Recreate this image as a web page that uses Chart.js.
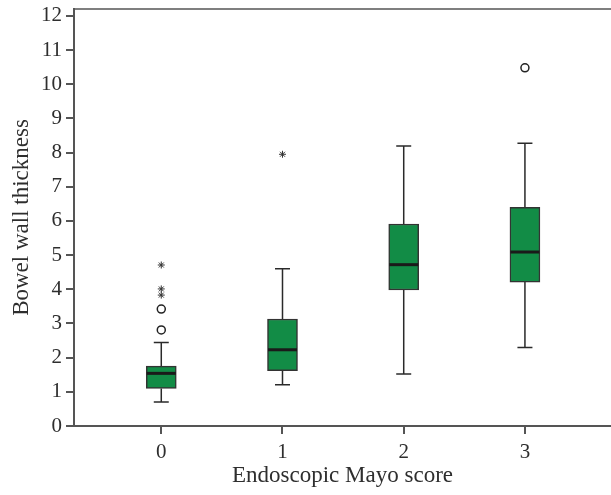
<!DOCTYPE html>
<html>
<head>
<meta charset="utf-8">
<script src="https://cdn.jsdelivr.net/npm/chart.js@4"></script>
<style>
  html, body { margin: 0; padding: 0; background: #fff; }
  #wrap { width: 611px; height: 495px; }
</style>
</head>
<body>
<div id="wrap"><canvas id="chart"></canvas></div>
<script>
// Endoscopic Mayo score groups
const scores = [0, 1, 2, 3];
// box plot summary per group
const whiskerLow = [0.70, 1.21, 1.52, 2.30];
const q1 = [1.10, 1.62, 3.98, 4.21];
const median = [1.54, 2.23, 4.72, 5.09];
const q3 = [1.75, 3.13, 5.91, 6.40];
const whiskerHigh = [2.44, 4.60, 8.19, 8.27];
// outliers (circles) and extreme values (asterisks)
const outlierX = [0, 0, 3];
const outlierY = [2.81, 3.42, 10.48];
const extremeX = [0, 0, 0, 1];
const extremeY = [3.83, 4.01, 4.71, 7.95];
const yTicks = [0, 1, 2, 3, 4, 5, 6, 7, 8, 9, 10, 11, 12];

const axisColor = '#555';
const textColor = '#2e2e2e';
const serif = 'Liberation Serif';

const boxLines = {
    id: 'boxLines',
    beforeDatasetsDraw(chart) {
        // whiskers and caps
        const {ctx, scales: {x, y}} = chart;
        ctx.save();
        ctx.strokeStyle = '#2a2a2a';
        ctx.lineWidth = 1.5;
        scores.forEach((s, i) => {
            const cx = x.getPixelForValue(s);
            const ends = [[q3[i], whiskerHigh[i]], [q1[i], whiskerLow[i]]];
            ends.forEach(([from, to]) => {
                const yTo = y.getPixelForValue(to);
                ctx.beginPath();
                ctx.moveTo(cx, y.getPixelForValue(from));
                ctx.lineTo(cx, yTo);
                ctx.moveTo(cx - 7.5, yTo);
                ctx.lineTo(cx + 7.5, yTo);
                ctx.stroke();
            });
        });
        ctx.restore();
    },
    afterDatasetsDraw(chart) {
        // medians
        const {ctx, scales: {x, y}} = chart;
        ctx.save();
        ctx.strokeStyle = '#1a1a1a';
        ctx.lineWidth = 3;
        scores.forEach((s, i) => {
            const cx = x.getPixelForValue(s);
            const my = y.getPixelForValue(median[i]);
            ctx.beginPath();
            ctx.moveTo(cx - 14.5, my);
            ctx.lineTo(cx + 14.5, my);
            ctx.stroke();
        });
        ctx.restore();
    },
    afterDraw(chart) {
        // top frame line
        const {ctx, chartArea} = chart;
        ctx.save();
        ctx.strokeStyle = axisColor;
        ctx.lineWidth = 1.5;
        ctx.beginPath();
        ctx.moveTo(chartArea.left, chartArea.top);
        ctx.lineTo(chartArea.right, chartArea.top);
        ctx.stroke();
        ctx.restore();
    }
};

new Chart(document.getElementById('chart'), {
    type: 'bar',
    data: {
        datasets: [
            {
                label: 'IQR',
                data: scores.map((s, i) => ({x: s, y: [q1[i], q3[i]]})),
                backgroundColor: '#128c46',
                borderColor: '#333',
                borderWidth: 1.5,
                borderSkipped: false,
                barThickness: 30
            },
            {
                type: 'scatter',
                label: 'outliers',
                data: outlierX.map((v, i) => ({x: v, y: outlierY[i]})),
                pointStyle: 'circle',
                pointRadius: 4,
                backgroundColor: '#fff',
                borderColor: '#222',
                borderWidth: 1.5
            },
            {
                type: 'scatter',
                label: 'extremes',
                data: extremeX.map((v, i) => ({x: v, y: extremeY[i]})),
                pointStyle: 'star',
                pointRadius: 3.5,
                borderColor: '#333',
                borderWidth: 1
            }
        ]
    },
    options: {
        responsive: true,
        maintainAspectRatio: false,
        animation: false,
        layout: {autoPadding: false, padding: {top: 9, right: 0, left: 0, bottom: 0}},
        plugins: {
            legend: {display: false},
            tooltip: {enabled: false}
        },
        scales: {
            x: {
                type: 'linear',
                min: -0.72,
                max: 3.71,
                offset: false,
                afterBuildTicks: s => { s.ticks = scores.map(v => ({value: v})); },
                afterFit: s => { s.height = 69; s.paddingLeft = 0; s.paddingRight = 0; },
                grid: {
                    offset: false,
                    drawOnChartArea: false,
                    tickLength: 8,
                    color: axisColor,
                    lineWidth: 2
                },
                border: {color: axisColor, width: 2},
                ticks: {
                    font: {family: serif, size: 21},
                    color: textColor,
                    padding: 6
                },
                title: {
                    display: true,
                    text: 'Endoscopic Mayo score',
                    font: {family: serif, size: 23},
                    color: textColor,
                    padding: {top: 0, bottom: 5}
                }
            },
            y: {
                min: 0,
                max: 12.2,
                afterBuildTicks: s => { s.ticks = yTicks.map(v => ({value: v})); },
                afterFit: s => { s.width = 74; s.paddingTop = 0; s.paddingBottom = 0; },
                grid: {
                    drawOnChartArea: false,
                    tickLength: 8,
                    color: axisColor,
                    lineWidth: 2
                },
                border: {color: axisColor, width: 2},
                ticks: {
                    font: {family: serif, size: 21},
                    color: textColor,
                    padding: 4
                },
                title: {
                    display: true,
                    text: 'Bowel wall thickness',
                    font: {family: serif, size: 23},
                    color: textColor,
                    padding: {top: 8, bottom: 0}
                }
            }
        }
    },
    plugins: [boxLines]
});
</script>
</body>
</html>
